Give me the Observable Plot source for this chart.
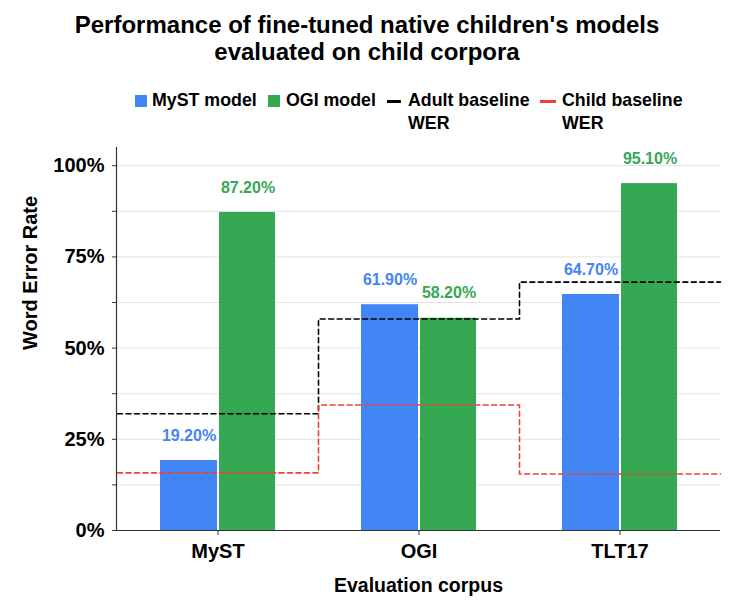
<!DOCTYPE html>
<html>
<head>
<meta charset="utf-8">
<script src="https://cdn.jsdelivr.net/npm/d3@7"></script>
<script src="https://cdn.jsdelivr.net/npm/@observablehq/plot@0.6"></script>
<style>
  body { margin: 0; background: #fff; font-family: "Liberation Sans", Arial, sans-serif; }
  #wrap { width: 734px; position: relative; }
  #header { position: relative; width: 734px; height: 136px; }
  #title { position: absolute; top: 11px; left: 0; width: 734px; text-align: center;
           font-size: 24px; font-weight: bold; line-height: 27px; color: #000; }
  .lg { position: absolute; font-size: 17.8px; font-weight: bold; line-height: 23px; color: #000; top: 89px; }
  .sw { position: absolute; }
</style>
</head>
<body>
<div id="wrap">
  <div id="header">
    <div id="title">Performance of fine-tuned native children's models<br>evaluated on child corpora</div>
    <div id="legend"></div>
  </div>
  <div id="chart"></div>
</div>
<script>
// ---- data ----
const corpora = ["MyST", "OGI", "TLT17"];
const mystModel = [0.192, 0.619, 0.647];
const ogiModel = [0.872, 0.582, 0.951];
const adultBaseline = [0.32, 0.58, 0.681];
const childBaseline = [0.158, 0.344, 0.155];
const yLabelTicks = [0, 0.25, 0.5, 0.75, 1];
const yMinorTicks = [0, 0.125, 0.25, 0.375, 0.5, 0.625, 0.75, 0.875, 1];
const seriesNames = ["MyST model", "OGI model", "Adult baseline\nWER", "Child baseline\nWER"];
const seriesColors = ["#4285f4", "#34a853", "#000000", "#ea4335"];

const rows = corpora.map((c, i) => ({
  corpus: c, myst: mystModel[i], ogi: ogiModel[i], adult: adultBaseline[i], child: childBaseline[i]
}));

// ---- legend ----
const legend = document.getElementById("legend");
const lgLayout = [
  {sw: 135, swW: 12, swH: 12, text: 152},
  {sw: 268, swW: 12, swH: 12, text: 286},
  {sw: 387, swW: 14, swH: 3, text: 408},
  {sw: 540, swW: 16, swH: 3, text: 562}
];
seriesNames.forEach((name, i) => {
  const L = lgLayout[i];
  const sw = document.createElement("div");
  sw.className = "sw";
  sw.style.left = L.sw + "px";
  sw.style.width = L.swW + "px";
  sw.style.height = L.swH + "px";
  sw.style.top = (101 - L.swH / 2) + "px";
  sw.style.background = seriesColors[i];
  legend.appendChild(sw);
  const t = document.createElement("div");
  t.className = "lg";
  t.style.left = L.text + "px";
  name.split("\n").forEach((line, j) => {
    if (j) t.appendChild(document.createElement("br"));
    t.appendChild(document.createTextNode(line));
  });
  legend.appendChild(t);
});

// custom step curve that spans the full band on both ends
function curveBandStep(context) {
  let pts = [];
  return {
    areaStart() {}, areaEnd() {},
    lineStart() { pts = []; },
    point(x, y) { pts.push([+x, +y]); },
    lineEnd() {
      if (!pts.length) return;
      const d = pts.length > 1 ? pts[1][0] - pts[0][0] : 0;
      context.moveTo(pts[0][0] - d / 2, pts[0][1]);
      for (let i = 1; i < pts.length; i++) {
        const xm = (pts[i - 1][0] + pts[i][0]) / 2;
        context.lineTo(xm, pts[i - 1][1]);
        context.lineTo(xm, pts[i][1]);
      }
      const last = pts[pts.length - 1];
      context.lineTo(last[0] + d / 2, last[1]);
    }
  };
}

const fmt = d3.format(".2%");
const font = "'Liberation Sans', Arial, sans-serif";

const chart = Plot.plot({
  width: 734,
  height: 470,
  marginTop: 11,
  marginBottom: 76,
  marginLeft: 116,
  marginRight: 14,
  style: {fontFamily: font, background: "#fff", overflow: "visible"},
  x: {domain: corpora, padding: 0, label: null},
  y: {domain: [0, 1.05], label: null},
  marks: [
    Plot.gridY(yMinorTicks, {stroke: "#e3e3e3", strokeOpacity: 1}),
    Plot.barY(rows, {x: "corpus", y: "myst", fill: seriesColors[0], insetLeft: 43, insetRight: 101}),
    Plot.barY(rows, {x: "corpus", y: "ogi", fill: seriesColors[1], insetLeft: 102, insetRight: 43}),
    Plot.line(rows, {x: "corpus", y: "adult", stroke: seriesColors[2], strokeWidth: 1.6, strokeDasharray: "5,3.5", curve: curveBandStep}),
    Plot.line(rows, {x: "corpus", y: "child", stroke: seriesColors[3], strokeWidth: 1.6, strokeDasharray: "5,3.5", curve: curveBandStep}),
    Plot.text(rows, {x: "corpus", y: "myst", text: d => fmt(d.myst), dx: -29, dy: -25, fill: seriesColors[0], fontSize: 16, fontWeight: "bold", lineAnchor: "middle"}),
    Plot.text(rows, {x: "corpus", y: "ogi", text: d => fmt(d.ogi), dx: 30, dy: -25, fill: seriesColors[1], fontSize: 16, fontWeight: "bold", lineAnchor: "middle"}),
    Plot.ruleY([0], {stroke: "#333", strokeWidth: 1.2}),
    Plot.frame({anchor: "left", stroke: "#333", strokeWidth: 1.2}),
    Plot.axisY(yMinorTicks, {tickSize: 4, tickFormat: () => "", stroke: "#333"}),
    Plot.axisY(yLabelTicks, {tickSize: 0, tickPadding: 12, tickFormat: d3.format(".0%"), fontSize: 20, fontWeight: "bold", fill: "#000", label: null}),
    Plot.axisX({tickSize: 5, tickPadding: 8, fontSize: 20, fontWeight: "bold", fill: "#000", stroke: "#333", label: null}),
    Plot.text(["Evaluation corpus"], {frameAnchor: "bottom", dy: 55, fontSize: 19.5, fontWeight: "bold", fill: "#000", lineAnchor: "middle"}),
    Plot.text(["Word Error Rate"], {frameAnchor: "left", dx: -86, dy: 11, rotate: -90, fontSize: 20, fontWeight: "bold", fill: "#000", lineAnchor: "middle"})
  ]
});
document.getElementById("chart").appendChild(chart);
</script>
</body>
</html>
